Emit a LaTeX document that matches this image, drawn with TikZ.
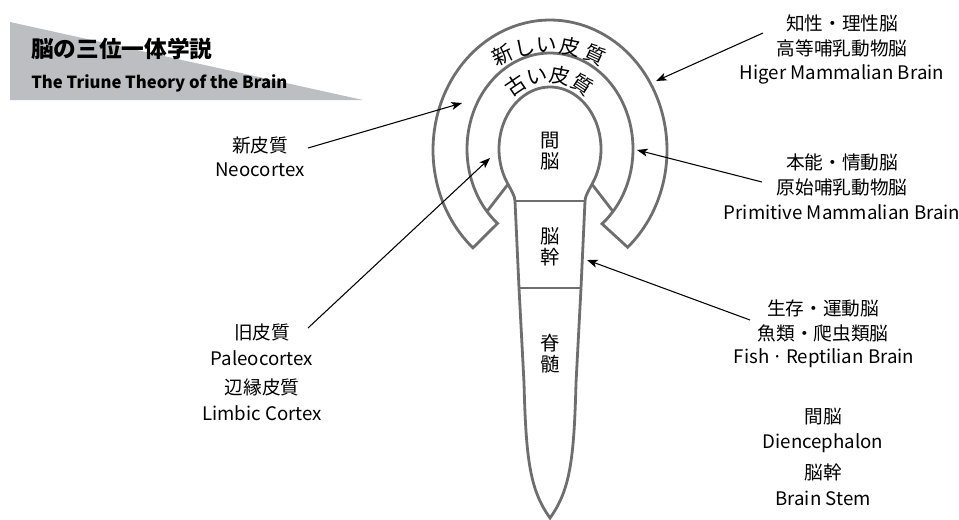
\documentclass[tikz,border=0pt]{standalone}
\usepackage{fontspec}
\setmainfont{Noto Sans CJK JP}
\usetikzlibrary{arrows.meta}
\definecolor{ringgray}{RGB}{110,110,110}
\definecolor{bandgray}{RGB}{189,190,193}
\begin{document}
\begin{tikzpicture}[x=0.75pt,y=-0.75pt,
  ring/.style={draw=ringgray, line width=2.1pt, line join=miter},
  lbl/.style={font=\fontsize{14}{16}\selectfont, inner sep=0pt, text=black},
  organ/.style={font=\fontsize{14.5}{16}\selectfont, inner sep=0pt},
  ringtxt/.style={font=\fontsize{15.5}{16}\selectfont, inner sep=0pt},
  arr/.style={-{Stealth[length=8pt,width=6pt,inset=2pt]}, line width=0.8pt, black}]
\useasboundingbox (0,0) rectangle (959,519);

% title band
\fill[bandgray] (10,22) -- (363,100) -- (10,100) -- cycle;
\node[anchor=west, inner sep=0pt, font=\bfseries\fontsize{17}{20}\selectfont] (t1) at (31,49) {脳の三位一体学説};
\node[anchor=west, inner sep=0pt, font=\bfseries\fontsize{12.5}{15}\selectfont] (t2) at (31,83) {The Triune Theory of the Brain};

% key coordinates
\coordinate (mL) at ({550+83*cos(139.4)},{149+96*sin(139.4)});
\coordinate (mR) at ({550+83*cos(40.6)},{149+96*sin(40.6)});
\coordinate (bL) at ({550+51*cos(145.4)},{149+62*sin(145.4)});
\coordinate (bR) at ({550+51*cos(34.6)},{149+62*sin(34.6)});
\coordinate (sTL) at (515,201);
\coordinate (sTR) at (585,201);
\coordinate (sML) at (519,288);
\coordinate (sMR) at (581,288);
\coordinate (tip) at (550,518);

% outer band (new cortex)
\draw[ring] plot[domain=0:1,samples=120] ({550+117*cos(131.2+277.6*\x)},{150+130*sin(131.2+277.6*\x)})
  -- plot[domain=0:1,samples=120] ({550+83*cos(411.2-282.4*\x)},{149+96*sin(411.2-282.4*\x)}) -- cycle;
% middle band end cuts
\draw[ring] (mL) -- (bL);
\draw[ring] (mR) -- (bR);
% bulb + stem + spinal cord
\draw[ring] (sTL) .. controls (515,196) and (511,190) .. (bL)
  -- plot[domain=0:1,samples=100] ({550+51*cos(145.4+249.2*\x)},{149+62*sin(145.4+249.2*\x)})
  .. controls (589,190) and (585,196) .. (sTR)
  -- (sMR) -- (576,383) .. controls (574,460) and (570,490) .. (tip)
  .. controls (530,490) and (526,460) .. (524,383) -- (sML) -- cycle;
\draw[ring] (sTL) -- (sTR);
\draw[ring] (sML) -- (sMR);

% organ labels
\node[organ] (k1) at (550,141) {間};
\node[organ] (k2) at (550,161) {脳};
\node[organ] (s1) at (550,236) {脳};
\node[organ] (s2) at (550,257) {幹};
\node[organ] (p1) at (550,343) {脊};
\node[organ] (p2) at (550,364) {髄};

% ring texts
\foreach \c/\p [count=\i] in {新/-25.2,し/-12.8,い/-1.5,皮/11.2,質/25.2}{
  \node[ringtxt, rotate={-\p}] (nr\i) at ({549+108*sin(\p)},{153-108*cos(\p)}) {\c};
}
\foreach \c/\p [count=\i] in {古/-34,い/-11.5,皮/10.6,質/33.4}{
  \node[ringtxt, rotate={-\p}] (or\i) at ({549+60*sin(\p)},{135-60*cos(\p)}) {\c};
}

% side labels
\node[lbl] (neo1) at (260,145) {新皮質};
\node[lbl] (neo2) at (260,170) {Neocortex};
\node[lbl] (pal1) at (262,332) {旧皮質};
\node[lbl] (pal2) at (262,358) {Paleocortex};
\node[lbl] (pal3) at (262,387) {辺縁皮質};
\node[lbl] (pal4) at (262,413) {Limbic Cortex};
\node[lbl] (hi1) at (842,23) {知性・理性脳};
\node[lbl] (hi2) at (842,48) {高等哺乳動物脳};
\node[lbl] (hi3) at (842,74) {Higer Mammalian Brain};
\node[lbl] (pr1) at (842,162) {本能・情動脳};
\node[lbl] (pr2) at (842,187) {原始哺乳動物脳};
\node[lbl] (pr3) at (842,212) {Primitive Mammalian Brain};
\node[lbl] (fi1) at (823,308) {生存・運動脳};
\node[lbl] (fi2) at (823,333) {魚類・爬虫類脳};
\node[lbl] (fi3) at (824,358) {Fish\,·\,Reptilian Brain};
\node[lbl] (di1) at (823,417) {間脳};
\node[lbl] (di2) at (823,443) {Diencephalon};
\node[lbl] (bs1) at (823,472) {脳幹};
\node[lbl] (bs2) at (823,498) {Brain Stem};

% arrows
\coordinate (a1s) at (308,148); \coordinate (a1e) at (462,103);
\coordinate (a2s) at (308,328); \coordinate (a2e) at (490,158);
\coordinate (a3s) at (763,33);  \coordinate (a3e) at (656,81);
\coordinate (a4s) at (762,182); \coordinate (a4e) at (637,150);
\coordinate (a5s) at (750,320); \coordinate (a5e) at (587,260);
\draw[arr] (a1s) -- (a1e);
\draw[arr] (a2s) -- (a2e);
\draw[arr] (a3s) -- (a3e);
\draw[arr] (a4s) -- (a4e);
\draw[arr] (a5s) -- (a5e);
\end{tikzpicture}
\end{document}
